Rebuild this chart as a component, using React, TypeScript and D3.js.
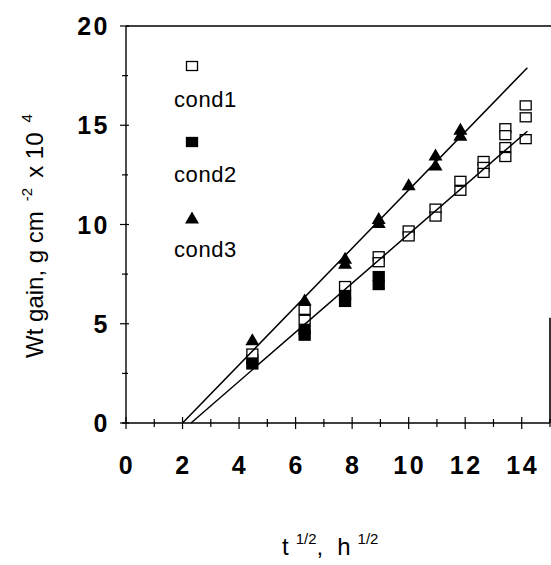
import React from "react";
import * as d3 from "d3";

// sqrt(time) sample points
const cond1X = [4.47, 6.32, 6.32, 7.75, 8.94, 8.94, 10.0, 10.0, 10.95, 10.95, 11.83, 11.83, 12.65, 12.65, 12.65, 13.42, 13.42, 13.42, 13.42, 14.14, 14.14, 14.14];
const cond1Y = [3.5, 5.7, 5.2, 6.9, 8.4, 8.1, 9.7, 9.4, 10.8, 10.4, 12.2, 11.7, 13.2, 12.9, 12.6, 14.85, 14.5, 13.9, 13.4, 16.0, 15.4, 14.3];
const cond2X = [4.47, 4.47, 6.32, 6.32, 7.75, 7.75, 8.94, 8.94];
const cond2Y = [3.2, 2.95, 4.7, 4.4, 6.45, 6.1, 7.4, 6.95];
const cond3X = [4.47, 6.32, 7.75, 7.75, 8.94, 8.94, 10.0, 10.95, 10.95, 11.83, 11.83];
const cond3Y = [4.2, 6.2, 8.3, 8.05, 10.3, 10.1, 12.0, 13.5, 13.0, 14.8, 14.5];

// fitted lines (endpoints)
const fitAX = [2.0, 14.2];
const fitAY = [0, 17.9];
const fitBX = [2.3, 14.2];
const fitBY = [0, 14.7];

const xTickLabels = [0, 2, 4, 6, 8, 10, 12, 14];
const yTickLabels = [0, 5, 10, 15, 20];
const legendNames = ["cond1", "cond2", "cond3"];

const W = 551;
const H = 565;
const font = "Arial, 'Liberation Sans', Helvetica, sans-serif";

export default function App() {
  const x = d3.scaleLinear().domain([0, 15]).range([126, 550]);
  const y = d3.scaleLinear().domain([0, 20]).range([423, 26]);
  const line = d3
    .line<[number, number]>()
    .x((d) => x(d[0]))
    .y((d) => y(d[1]));

  const xMinor = d3.range(0, 16, 1);
  const yMinor = d3.range(0, 20.1, 2.5);

  const sq = (cx: number, cy: number, filled: boolean, key: string) => (
    <rect
      key={key}
      x={cx - 5.5}
      y={cy - 4.5}
      width={11}
      height={9}
      fill={filled ? "#000" : "#fff"}
      stroke="#000"
      strokeWidth={1.3}
    />
  );
  const tri = (cx: number, cy: number, key: string) => (
    <path
      key={key}
      d={`M${cx},${cy - 6.5}L${cx + 7},${cy + 5.5}L${cx - 7},${cy + 5.5}Z`}
      fill="#000"
    />
  );

  return (
    <svg
      width={W}
      height={H}
      style={{ position: "absolute", left: 0, top: 0, background: "#fff" }}
      fontFamily={font}
    >
      {/* frame */}
      <line x1={x(0)} x2={x(15) + 1} y1={y(20)} y2={y(20)} stroke="#000" strokeWidth={1.4} />
      <line x1={x(0) - 4} x2={x(15)} y1={y(0)} y2={y(0)} stroke="#000" strokeWidth={1.4} />
      <line x1={x(0)} x2={x(0)} y1={y(0)} y2={y(20)} stroke="#000" strokeWidth={1.4} />
      <line x1={x(15)} x2={x(15)} y1={y(0)} y2={y(5.3)} stroke="#000" strokeWidth={1.6} />

      {/* x ticks */}
      {xMinor.map((v) => {
        const major = v % 2 === 0;
        return (
          <line
            key={"xt" + v}
            x1={x(v)}
            x2={x(v)}
            y1={y(0) - (major ? 6 : 4)}
            y2={y(0) + (major ? 6 : 4)}
            stroke="#000"
            strokeWidth={1.2}
          />
        );
      })}
      {/* y ticks */}
      {yMinor.map((v) => {
        const major = v % 5 === 0;
        return (
          <line
            key={"yt" + v}
            x1={x(0) - (major ? 6 : 4)}
            x2={x(0) + (major ? 3 : 2)}
            y1={y(v)}
            y2={y(v)}
            stroke="#000"
            strokeWidth={1.2}
          />
        );
      })}

      {xTickLabels.map((v) => (
        <text
          key={"xl" + v}
          x={x(v) + 1}
          y={474}
          textAnchor="middle"
          fontSize={25}
          fontWeight="bold"
          letterSpacing={2.5}
        >
          {v}
        </text>
      ))}
      {yTickLabels.map((v) => (
        <text
          key={"yl" + v}
          x={110}
          y={y(v) + 9}
          textAnchor="end"
          fontSize={25}
          fontWeight="bold"
          letterSpacing={2.5}
        >
          {v}
        </text>
      ))}

      {/* markers */}
      {cond2X.map((v, i) => sq(x(v), y(cond2Y[i]), true, "c2" + i))}
      {cond1X.map((v, i) => sq(x(v), y(cond1Y[i]), false, "c1" + i))}
      {cond3X.map((v, i) => tri(x(v), y(cond3Y[i]), "c3" + i))}

      {/* fitted lines */}
      <path
        d={line(fitAX.map((v, i) => [v, fitAY[i]]) as [number, number][]) || ""}
        fill="none"
        stroke="#000"
        strokeWidth={1.5}
      />
      <path
        d={line(fitBX.map((v, i) => [v, fitBY[i]]) as [number, number][]) || ""}
        fill="none"
        stroke="#000"
        strokeWidth={1.5}
      />

      {/* legend */}
      {sq(192, 66, false, "lg0")}
      {sq(192, 142, true, "lg1")}
      {tri(192, 218, "lg2")}
      {legendNames.map((n, i) => (
        <text key={n} x={174} y={107 + i * 75} fontSize={22} letterSpacing={0.6}>
          {n}
        </text>
      ))}

      {/* axis titles */}
      <text x={282} y={555} fontSize={24}>
        t
        <tspan dx={7} dy={-11} fontSize={15}>1/2</tspan>
        <tspan dy={11}>,</tspan>
        <tspan dx={14}>h</tspan>
        <tspan dx={7} dy={-11} fontSize={15}>1/2</tspan>
      </text>
      <text transform="translate(43,236) rotate(-90)" textAnchor="middle" fontSize={24}>
        Wt gain, g cm
        <tspan dx={10} dy={-11} fontSize={15}>-2</tspan>
        <tspan dx={10} dy={11}>x 10</tspan>
        <tspan dx={10} dy={-11} fontSize={15}>4</tspan>
      </text>
    </svg>
  );
}
